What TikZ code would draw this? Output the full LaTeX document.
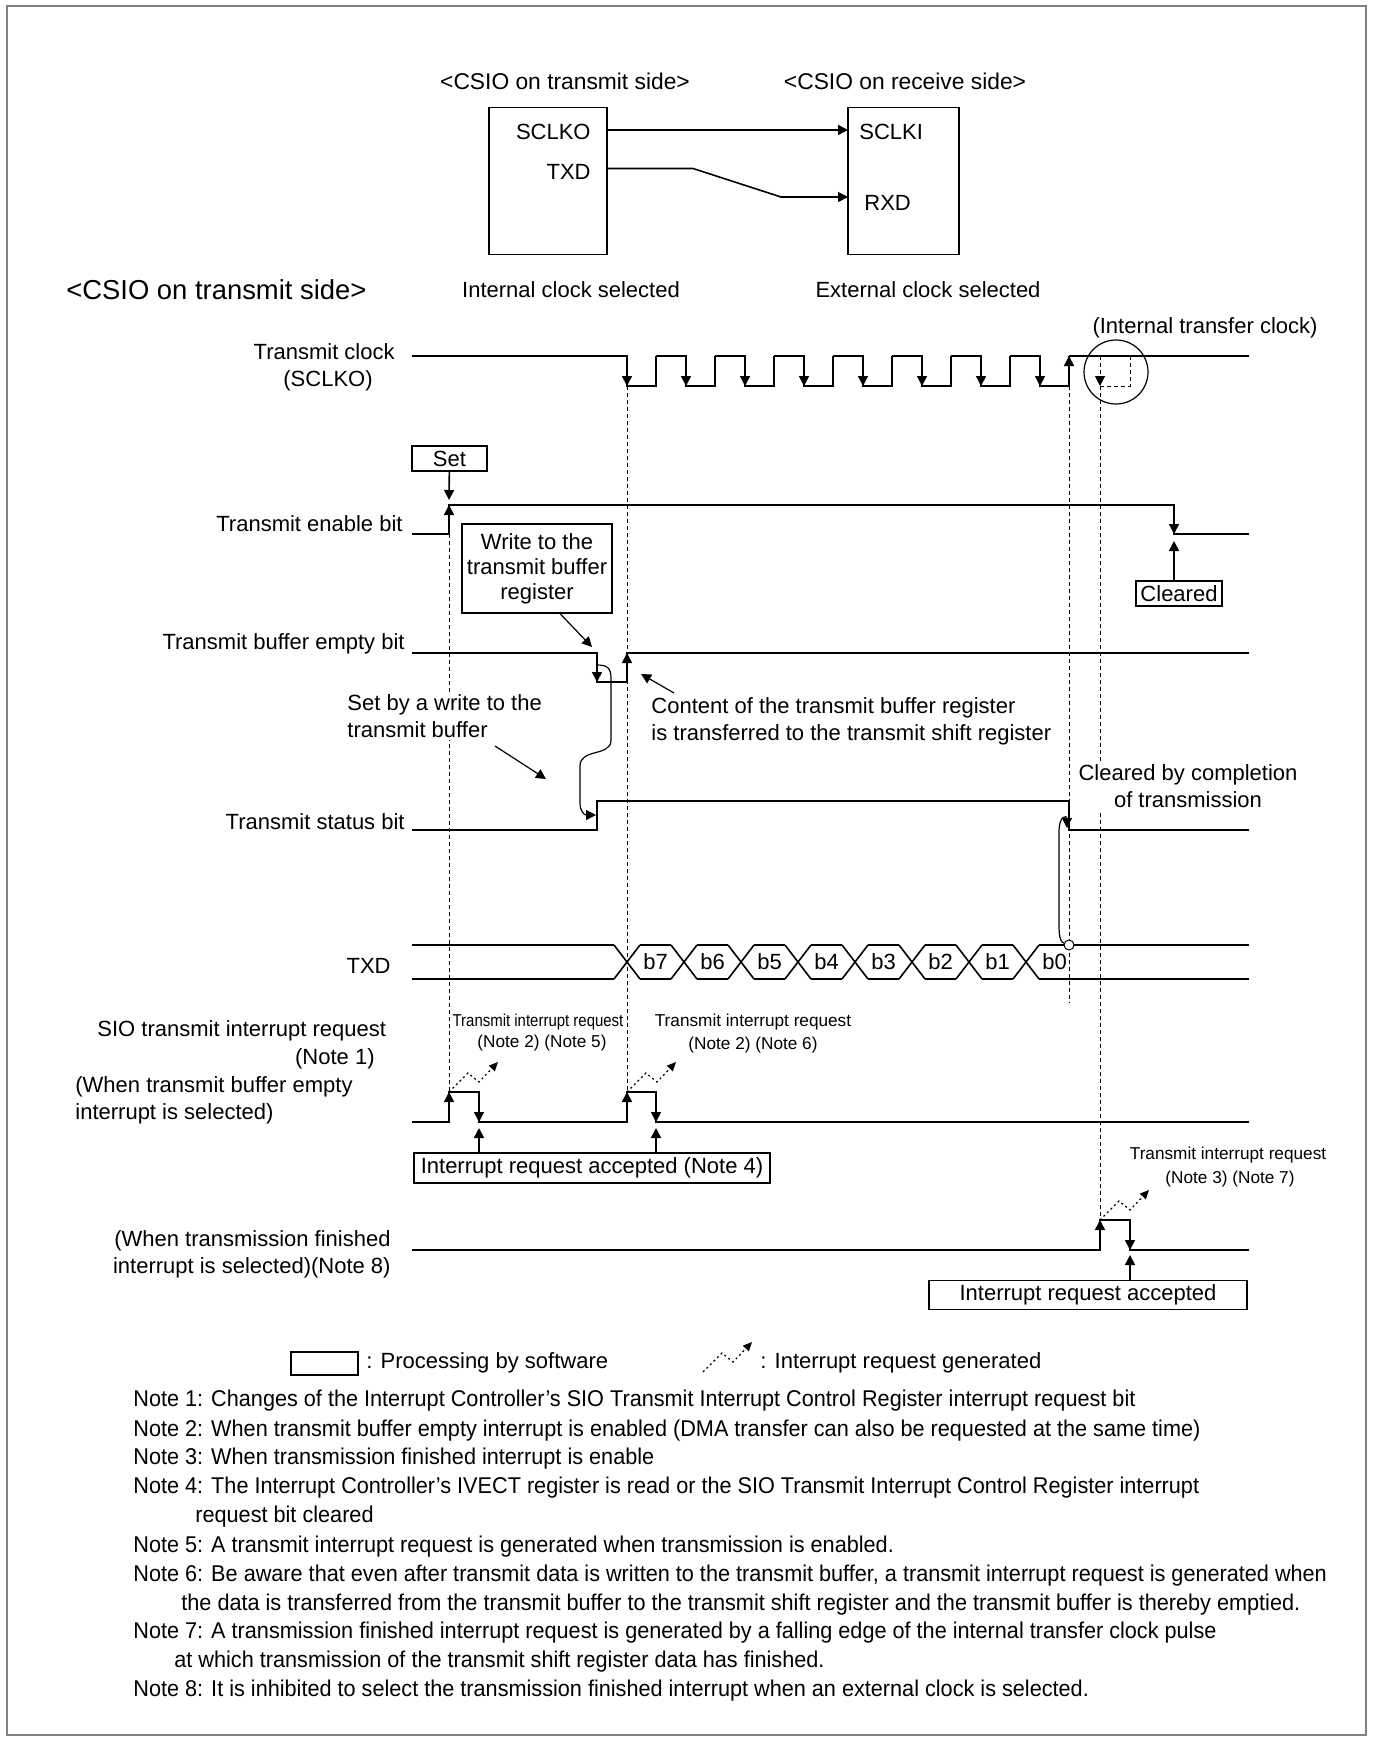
\documentclass[tikz,border=0pt]{standalone}
\usepackage{fontspec}
\setmainfont{Liberation Sans}
\usetikzlibrary{arrows.meta,positioning}
\newcommand\lblfont{\fontsize{11}{13}\selectfont}
\newcommand\headfont{\fontsize{13.7}{16}\selectfont}
\newcommand\notefont{\fontsize{11.4}{14}\selectfont}
\newcommand\smallfont{\fontsize{8.6}{10.5}\selectfont}
\newcommand\nt[1]{\scalebox{0.95}[1]{#1}}

\begin{document}
\begin{tikzpicture}[
  x=0.5pt, y=-0.5pt,
  lbl/.style={inner sep=0pt, font=\lblfont},
  note/.style={inner sep=0pt, anchor=west, font=\notefont},
  tiny/.style={inner sep=0pt, font=\smallfont},
  swbox/.style={draw, line width=0.6pt, inner sep=2pt, font=\lblfont, align=center},
  sig/.style={line width=0.8pt},
  guide/.style={line width=0.5pt, dash pattern=on 2pt off 1.5pt},
  arr/.style={line width=0.8pt, -{Triangle[length=5pt,width=5pt]}},
  irq/.style={line width=0.6pt, dash pattern=on 1pt off 1.5pt,
              -{Triangle[length=4.5pt,width=4pt]}}]
\useasboundingbox (0,0) rectangle (1372,1738);
\draw[line width=1pt, gray] (7,6) rectangle (1366,1735);

% connection of the two CSIOs
\node[lbl, font=\fontsize{11.4}{13}\selectfont] (txhead) at (565,81) {<CSIO on transmit side>};
\node[lbl, font=\fontsize{11.4}{13}\selectfont] (rxhead) at (905,81) {<CSIO on receive side>};
\node[draw, line width=0.6pt, minimum width=59pt, minimum height=73.75pt] (txblk) at (548,181) {};
\node[draw, line width=0.6pt, minimum width=55.5pt, minimum height=73.75pt] (rxblk) at (903.5,181) {};
\node[lbl, anchor=east] (sclko) at (591,132) {SCLKO};
\node[lbl, anchor=east] (txdpin) at (591,172) {TXD};
\node[lbl, anchor=west] (sclki) at (859,132) {SCLKI};
\node[lbl, anchor=west] (rxd) at (864,203) {RXD};
\node[lbl] (intclk) at (571,290) {Internal clock selected};
\node[lbl] (extclk) at (928,290) {External clock selected};
\coordinate (ckout) at (607,130);
\coordinate (ckin) at (848,130);
\coordinate (dout) at (607,168.5);
\coordinate (din) at (848,197);
\draw[arr] (ckout) -- (ckin);
\draw[arr] (dout) -- (693,168.5) -- (781,197) -- (din);

\node[lbl, anchor=west, font=\headfont] (side) at (66,290) {<CSIO on transmit side>};

% row labels
\node[lbl, anchor=east] (clklbl) at (395,352) {Transmit clock};
\node[lbl] (clkpin) at (328,381) {(SCLKO)};
\node[lbl, anchor=east] (enlbl) at (403,524) {Transmit enable bit};
\node[lbl, anchor=east] (bflbl) at (405,644) {Transmit buffer empty bit};
\node[lbl, anchor=east] (stlbl) at (405,822) {Transmit status bit};
\node[lbl, anchor=east] (txdlbl) at (391,966) {TXD};
\node[lbl, anchor=west] (irqlbl) at (97,1031) {SIO transmit interrupt request};
\node[lbl, anchor=east] (irqnote) at (375,1059) {(Note 1)};
\node[lbl, anchor=west] (irqsel1) at (75,1087) {(When transmit buffer empty};
\node[lbl, anchor=west] (irqsel2) at (75,1114) {interrupt is selected)};
\node[lbl, anchor=east] (finsel1) at (391,1241) {(When transmission finished};
\node[lbl, anchor=east] (finsel2) at (391,1268) {interrupt is selected)(Note 8)};

% dashed guides
\foreach \x/\ya/\yb in {449/534/1092, 627/386/1092, 1069/386/1003, 1100/386/1220}
  \draw[guide] (\x,\ya) -- (\x,\yb);

% transmit clock
\draw[sig] (412,356) -- (597,356);
\foreach \k in {0,...,7} {
  \pgfmathsetmacro\fe{627+59*\k}
  \pgfmathsetmacro\re{\fe+29}
  \draw[sig] (\fe-30,356) -- (\fe,356) -- (\fe,386) -- (\re,386) -- (\re,356);
  \draw[arr] (\fe,356) -- (\fe,386);
}
\draw[sig] (1069,356) -- (1249,356);
\draw[arr] (1069,386) -- (1069,356);
\draw[guide, -{Triangle[length=5pt,width=5pt]}] (1100,356) -- (1100,386);
\draw[guide] (1100,386) -- (1130,386) -- (1130,356);
\draw[line width=0.6pt] (1116,372) circle [radius=16pt];
\node[lbl] (itc) at (1205,328) {(Internal transfer clock)};

% transmit enable bit
\draw[sig] (412,534) -- (449,534) -- (449,505) -- (1174,505) -- (1174,534) -- (1249,534);
\draw[arr] (449,534) -- (449,505);
\draw[arr] (1174,505) -- (1174,534);
\node[swbox, minimum width=37.5pt, minimum height=12.5pt] (set) at (449.5,458.5) {Set};
\coordinate (setpt) at (449,500);
\draw[arr] (set) -- (setpt);
\node[swbox, minimum width=43pt, minimum height=12.5pt] (clr) at (1179,593.5) {Cleared};
\coordinate (clrpt) at (1174,541);
\draw[arr] (clr.north -| clrpt) -- (clrpt);

% transmit buffer empty bit
\draw[sig] (412,653) -- (597,653) -- (597,682) -- (627,682) -- (627,653) -- (1249,653);
\draw[arr] (597,653) -- (597,682);
\draw[arr] (627,682) -- (627,653);
\node[swbox, minimum width=75pt, minimum height=44.5pt,
      font=\fontsize{11}{12.5}\selectfont] (wr) at (537,568.5) {Write to the\\transmit buffer\\register};
\coordinate (wrpt) at (592,647);
\draw[arr, line width=0.6pt] ([xshift=11.5pt]wr.south) -- (wrpt);
\node[lbl, anchor=west, align=left, font=\fontsize{11}{13.5}\selectfont] (cont) at (651,721)
  {Content of the transmit buffer register\\is transferred to the transmit shift register};
\coordinate (cfrom) at (674,693);
\coordinate (cto) at (641,674);
\draw[arr, line width=0.6pt] (cfrom) -- (cto);
\node[lbl, anchor=west, align=left, fill=white, inner sep=1pt,
      font=\fontsize{11}{13.5}\selectfont] (setby) at (345,716)
  {Set by a write to the\\transmit buffer};
\coordinate (sbfrom) at (495,746);
\coordinate (sbto) at (546,779);
\draw[arr, line width=0.6pt] (sbfrom) -- (sbto);

% transmit status bit
\draw[sig] (412,830) -- (597,830) -- (597,801) -- (1069,801) -- (1069,830) -- (1249,830);
\draw[arr, line width=0.6pt] (597,665) .. controls (607,665) and (611,668) .. (611,678)
  -- (611,740) .. controls (611,757) and (580,748) .. (580,766)
  -- (580,803) .. controls (580,811) and (584,815) .. (596,815);
\node[lbl, fill=white, inner sep=1pt, align=center, font=\fontsize{11}{13.5}\selectfont] (clrby) at (1188,786)
  {Cleared by completion\\of transmission};

% TXD
\draw[sig] (412,945) -- (614,945) (412,979) -- (614,979);
\foreach \k/\b in {0/7,1/6,2/5,3/4,4/3,5/2,6/1,7/0} {
  \pgfmathsetmacro\c{627+57*\k}
  \draw[sig] (\c-13,945) -- (\c+13,979) (\c-13,979) -- (\c+13,945);
  \node[lbl] (b\b) at (\c+28.5,962) {b\b};
}
\foreach \k in {0,...,6} {
  \pgfmathsetmacro\c{627+57*\k}
  \draw[sig] (\c+13,945) -- (\c+44,945) (\c+13,979) -- (\c+44,979);
}
\draw[sig] (1039,945) -- (1249,945) (1039,979) -- (1249,979);
\node[circle, draw, fill=white, inner sep=0pt, minimum size=5pt, line width=0.5pt] (eot) at (1069,945) {};
\draw[arr, line width=0.6pt] (eot) .. controls (1060,942) and (1059,935) .. (1059,925)
  -- (1059,832) .. controls (1059,815) and (1067,815) .. (1067,828);

% SIO transmit interrupt request (buffer empty)
\draw[sig] (412,1122) -- (449,1122) -- (449,1092) -- (479,1092) -- (479,1122)
  -- (627,1122) -- (627,1092) -- (656,1092) -- (656,1122) -- (1249,1122);
\draw[arr] (449,1122) -- (449,1092);
\draw[arr] (627,1122) -- (627,1092);
\draw[arr] (479,1092) -- (479,1122);
\draw[arr] (656,1092) -- (656,1122);
\node[swbox, minimum width=178pt, minimum height=15pt] (acc) at (592,1168) {Interrupt request accepted (Note 4)};
\coordinate (ack1) at (479,1128);
\coordinate (ack2) at (656,1128);
\foreach \a in {ack1,ack2}
  \draw[arr] (acc.north -| \a) -- (\a);
\node[tiny] (rq5a) at (538,1022) {\scalebox{0.87}[1]{Transmit interrupt request}};
\node[tiny] (rq5b) at (542,1043) {(Note 2) (Note 5)};
\node[tiny] (rq6a) at (753,1022) {Transmit interrupt request};
\node[tiny] (rq6b) at (753,1045) {(Note 2) (Note 6)};

% transmission finished interrupt
\draw[sig] (412,1250) -- (1100,1250) -- (1100,1220) -- (1130,1220) -- (1130,1250) -- (1249,1250);
\draw[arr] (1100,1250) -- (1100,1220);
\draw[arr] (1130,1220) -- (1130,1250);
\node[swbox, minimum width=159pt, minimum height=14pt] (acc2) at (1088,1295) {Interrupt request accepted};
\coordinate (ack3) at (1130,1255);
\draw[arr] (acc2.north -| ack3) -- (ack3);
\node[tiny] (rq7a) at (1228,1155) {Transmit interrupt request};
\node[tiny] (rq7b) at (1230,1179) {(Note 3) (Note 7)};

% legend
\node[draw, line width=0.6pt, minimum width=33.5pt, minimum height=11.5pt, inner sep=0pt] (lgbox) at (324.5,1363.5) {};
\node[lbl, anchor=west] (lgsw) at (366,1363) {: Processing by software};
\node[lbl, anchor=west] (lgirq) at (760,1363) {: Interrupt request generated};

% interrupt request generated marks
\coordinate (rq1) at (449,1092);
\coordinate (rq2) at (627,1092);
\coordinate (rq3) at (1100,1220);
\coordinate (lgq) at (703,1372);
\foreach \p in {rq1,rq2,rq3,lgq}
  \draw[irq] (\p) -- ++(19,-19) -- ++(11,9) -- ++(19,-20);

% notes
\node[note] (n1) at (133,1401) {\nt{Note 1: Changes of the Interrupt Controller's SIO Transmit Interrupt Control Register interrupt request bit}};
\node[note] (n2) at (133,1431) {\nt{Note 2: When transmit buffer empty interrupt is enabled (DMA transfer can also be requested at the same time)}};
\node[note] (n3) at (133,1459) {\nt{Note 3: When transmission finished interrupt is enable}};
\node[note] (n4) at (133,1488) {\nt{Note 4: The Interrupt Controller's IVECT register is read or the SIO Transmit Interrupt Control Register interrupt}};
\node[note] (n4b) at (195,1517) {\nt{request bit cleared}};
\node[note] (n5) at (133,1547) {\nt{Note 5: A transmit interrupt request is generated when transmission is enabled.}};
\node[note] (n6) at (133,1576) {\nt{Note 6: Be aware that even after transmit data is written to the transmit buffer, a transmit interrupt request is generated when}};
\node[note] (n6b) at (181,1605) {\nt{the data is transferred from the transmit buffer to the transmit shift register and the transmit buffer is thereby emptied.}};
\node[note] (n7) at (133,1633) {\nt{Note 7: A transmission finished interrupt request is generated by a falling edge of the internal transfer clock pulse}};
\node[note] (n7b) at (174,1662) {\nt{at which transmission of the transmit shift register data has finished.}};
\node[note] (n8) at (133,1691) {\nt{Note 8: It is inhibited to select the transmission finished interrupt when an external clock is selected.}};
\end{tikzpicture}
\end{document}
